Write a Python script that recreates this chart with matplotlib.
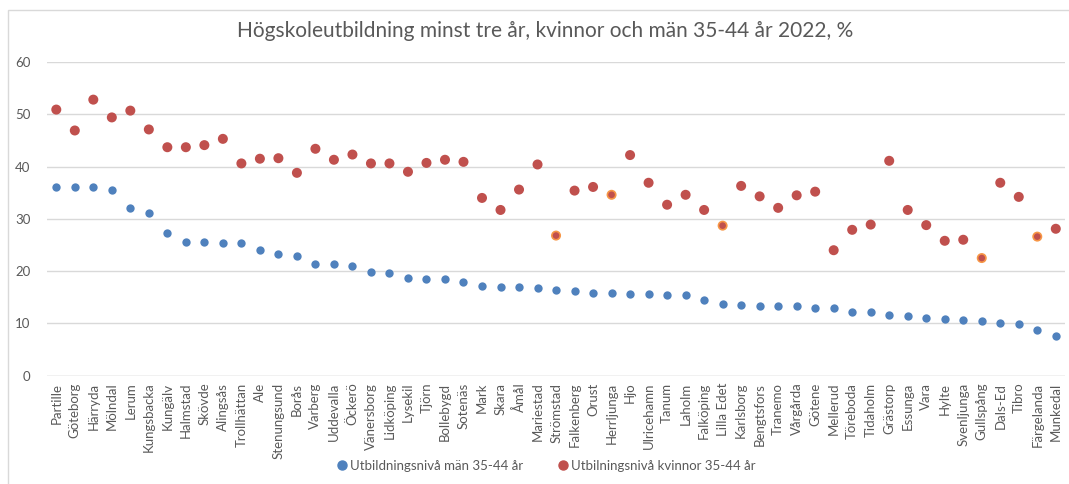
import matplotlib
matplotlib.use("Agg")
import matplotlib.pyplot as plt
from matplotlib.patches import Rectangle
from matplotlib.lines import Line2D

plt.rcParams['font.family'] = ['Lato', 'DejaVu Sans']

kommuner = ["Partille", "Göteborg", "Härryda", "Mölndal", "Lerum", "Kungsbacka", "Kungälv",
            "Halmstad", "Skövde", "Alingsås", "Trollhättan", "Ale", "Stenungsund", "Borås",
            "Varberg", "Uddevalla", "Öckerö", "Vänersborg", "Lidköping", "Lysekil", "Tjörn",
            "Bollebygd", "Sotenäs", "Mark", "Skara", "Åmål", "Mariestad", "Strömstad",
            "Falkenberg", "Orust", "Herrljunga", "Hjo", "Ulricehamn", "Tanum", "Laholm",
            "Falköping", "Lilla Edet", "Karlsborg", "Bengtsfors", "Tranemo", "Vårgårda",
            "Götene", "Mellerud", "Töreboda", "Tidaholm", "Grästorp", "Essunga", "Vara",
            "Hylte", "Svenljunga", "Gullspång", "Dals-Ed", "Tibro", "Färgelanda", "Munkedal"]

man = [36.1, 36.1, 36.0, 35.6, 32.1, 31.2, 27.3, 25.6, 25.6, 25.4, 25.3, 24.0, 23.2, 22.8,
       21.4, 21.4, 21.0, 19.9, 19.7, 18.6, 18.5, 18.4, 18.0, 17.2, 17.0, 17.0, 16.8, 16.4,
       16.2, 15.9, 15.8, 15.7, 15.6, 15.5, 15.5, 14.5, 13.8, 13.5, 13.4, 13.4, 13.4, 13.0,
       12.9, 12.1, 12.1, 11.6, 11.4, 11.1, 10.9, 10.6, 10.5, 10.1, 9.9, 8.8, 7.6]

kvinnor = [50.9, 46.9, 52.8, 49.4, 50.7, 47.1, 43.7, 43.7, 44.1, 45.3, 40.6, 41.5, 41.6, 38.8,
           43.4, 41.3, 42.3, 40.6, 40.6, 39.0, 40.7, 41.3, 40.9, 34.0, 31.7, 35.6, 40.4, 26.8,
           35.4, 36.1, 34.6, 42.2, 36.9, 32.7, 34.6, 31.7, 28.7, 36.3, 34.3, 32.1, 34.5, 35.2,
           24.0, 27.9, 28.9, 41.1, 31.7, 28.8, 25.8, 26.0, 22.5, 36.9, 34.2, 26.6, 28.1]

# points drawn with an orange outline in the original
markerade = ["Strömstad", "Herrljunga", "Lilla Edet", "Gullspång", "Färgelanda"]

blue = "#4F81BD"
red = "#C0504D"
orange = "#F79646"
gray = "#595959"

fig = plt.figure(figsize=(10.69, 4.84), dpi=100)
ax = fig.add_axes([0.044, 0.2238, 0.9523, 0.6481])

x = list(range(len(kommuner)))
edges = [orange if k in markerade else red for k in kommuner]

ax.scatter(x, man, s=36, color=blue, zorder=3, linewidths=0)
ax.scatter(x, kvinnor, s=36, color=red, edgecolors=edges, linewidths=1.2, zorder=3)

ax.set_xlim(-0.5, len(kommuner) - 0.5)
ax.set_ylim(0, 60)
ax.set_yticks(range(0, 61, 10))
ax.yaxis.grid(True, color="#D9D9D9", linewidth=1)
ax.set_axisbelow(True)
for s in ["top", "right", "left", "bottom"]:
    ax.spines[s].set_visible(False)
ax.axhline(0, color="#D9D9D9", linewidth=1, zorder=1)

ax.set_xticks(x)
ax.set_xticklabels(kommuner, rotation=90, fontsize=9.5, color=gray)
ax.tick_params(axis="x", length=0, pad=5)
ax.tick_params(axis="y", length=0, pad=12, labelsize=9.5, labelcolor=gray)

fig.text(0.51, 0.935, "Högskoleutbildning minst tre år, kvinnor och män 35-44 år 2022, %",
         ha="center", va="center", fontsize=15, color=gray)

handles = [Line2D([], [], marker="o", linestyle="", color=blue, markersize=6.5),
           Line2D([], [], marker="o", linestyle="", color=red, markersize=6.5)]
fig.legend(handles, ["Utbildningsnivå män 35-44 år", "Utbilningsnivå kvinnor 35-44 år"],
           loc="center", bbox_to_anchor=(0.51, 0.037), ncol=2, frameon=False,
           fontsize=9.5, labelcolor=gray, handletextpad=0.1, columnspacing=2.5,
           handlelength=1)

# light frame around the chart area
fig.patches.append(Rectangle((8 / 1069, -0.05), 1.2, 1 - 10 / 484 + 0.05, transform=fig.transFigure,
                             fill=False, edgecolor="#D9D9D9", linewidth=1))

fig.savefig("out.png", dpi=100)
